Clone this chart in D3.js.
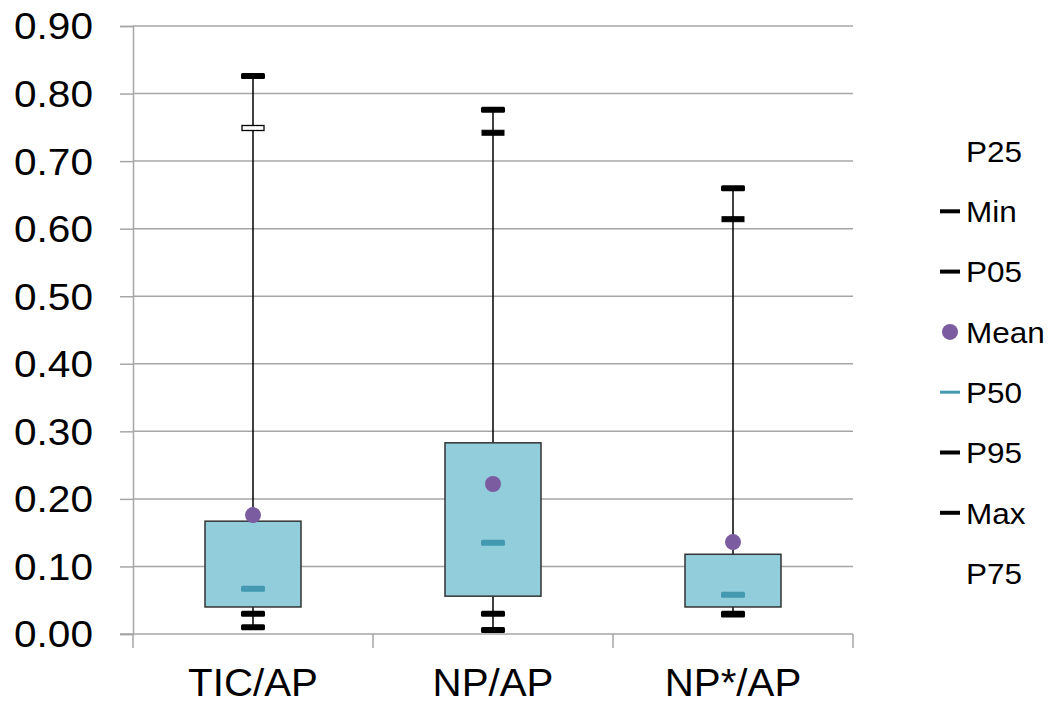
<!DOCTYPE html>
<html>
<head>
<meta charset="utf-8">
<script src="https://cdn.jsdelivr.net/npm/d3@7"></script>
<style>
  body { margin: 0; background: #fff; }
  svg text { font-family: "Liberation Sans", Arial, sans-serif; fill: #000; }
</style>
</head>
<body>
<div id="chart"></div>
<script>
// values
var categories = ["TIC/AP", "NP/AP", "NP*/AP"];
var minVals  = [0.010, 0.006, 0.029];
var p05Vals  = [0.030, 0.030, 0.030];
var p25Vals  = [0.040, 0.056, 0.040];
var p50Vals  = [0.067, 0.135, 0.058];
var meanVals = [0.176, 0.222, 0.136];
var p75Vals  = [0.167, 0.283, 0.118];
var p95Vals  = [0.749, 0.742, 0.614];
var maxVals  = [0.826, 0.776, 0.660];
var yTicks = [0, 0.1, 0.2, 0.3, 0.4, 0.5, 0.6, 0.7, 0.8, 0.9];
var legendItems = ["P25", "Min", "P05", "Mean", "P50", "P95", "Max", "P75"];

var svg_width = 1049, svg_height = 703,
    plot_left = 133, plot_right = 853, plot_top = 26, plot_bottom = 634,
    boxW = 96, dashW = 24, dashH = 6,
    gridCol = "#a6a6a6", boxFill = "#92cddc", medCol = "#4299b0", meanCol = "#7b5ca0";

var svg = d3.select("#chart").append("svg")
  .attr("width", svg_width).attr("height", svg_height);

var x = d3.scaleBand().domain(categories).range([plot_left, plot_right]);
var y = d3.scaleLinear().domain([0, 0.9]).range([plot_bottom, plot_top]);

// gridlines
svg.append("g").selectAll("line").data(yTicks.slice(1)).enter().append("line")
  .attr("x1", plot_left).attr("x2", plot_right)
  .attr("y1", function (d) { return y(d); }).attr("y2", function (d) { return y(d); })
  .attr("stroke", gridCol).attr("stroke-width", 1.5);

// y axis
var yAxis = svg.append("g").attr("transform", "translate(" + plot_left + ",0)")
  .call(d3.axisLeft(y).tickValues(yTicks).tickFormat(d3.format(".2f")).tickSize(13).tickPadding(27));
yAxis.select(".domain").attr("stroke", gridCol).attr("stroke-width", 1.5);
yAxis.selectAll(".tick line").attr("stroke", gridCol).attr("stroke-width", 1.5);
yAxis.selectAll("text").attr("font-size", 36).attr("font-family", "Liberation Sans, Arial, sans-serif")
  .attr("dy", "0.36em").attr("textLength", 79).attr("lengthAdjust", "spacingAndGlyphs");

// x axis
var xAxis = svg.append("g").attr("transform", "translate(0," + plot_bottom + ")")
  .call(d3.axisBottom(x).tickSize(0).tickPadding(35));
xAxis.select(".domain").attr("stroke", gridCol).attr("stroke-width", 1.5)
  .attr("d", "M" + (plot_left - 13) + ",0H" + plot_right);
xAxis.selectAll("text").attr("font-size", 38).attr("font-family", "Liberation Sans, Arial, sans-serif")
  .attr("dy", "0.72em")
  .each(function () {
    var w = this.getComputedTextLength();
    d3.select(this).attr("textLength", w * 1.06).attr("lengthAdjust", "spacingAndGlyphs");
  });
// category dividers
xAxis.append("g").selectAll("line").data([plot_left].concat(categories.map(function (c) { return x(c) + x.bandwidth(); })))
  .enter().append("line")
  .attr("x1", function (d) { return d; }).attr("x2", function (d) { return d; })
  .attr("y1", 0).attr("y2", 14)
  .attr("stroke", gridCol).attr("stroke-width", 1.5);

var rows = categories.map(function (c, i) {
  return { cat: c, min: minVals[i], p05: p05Vals[i], p25: p25Vals[i], p50: p50Vals[i],
           mean: meanVals[i], p75: p75Vals[i], p95: p95Vals[i], max: maxVals[i], open: i === 0 };
});

var g = svg.append("g").selectAll("g.box").data(rows).enter().append("g").attr("class", "box")
  .attr("transform", function (d) { return "translate(" + (x(d.cat) + x.bandwidth() / 2) + ",0)"; });

// whisker
g.append("line").attr("x1", 0).attr("x2", 0)
  .attr("y1", function (d) { return y(d.max); }).attr("y2", function (d) { return y(d.min); })
  .attr("stroke", "#000").attr("stroke-width", 1.5);

// box
g.append("rect").attr("x", -boxW / 2).attr("width", boxW)
  .attr("y", function (d) { return y(d.p75); })
  .attr("height", function (d) { return y(d.p25) - y(d.p75); })
  .attr("fill", boxFill).attr("stroke", "#333").attr("stroke-width", 1.5);

function dash(sel, key, fill, stroke) {
  sel.append("rect").attr("x", -dashW / 2).attr("width", dashW).attr("height", dashH)
    .attr("rx", 1.5)
    .attr("y", function (d) { return y(d[key]) - dashH / 2; })
    .attr("fill", fill).attr("stroke", stroke || "none");
}
dash(g, "min", "#000");
dash(g, "p05", "#000");
dash(g, "max", "#000");
g.append("rect").attr("x", -dashW / 2 + 1).attr("width", dashW - 2).attr("height", dashH - 1)
  .attr("y", function (d) { return y(d.p95) - (dashH - 1) / 2; })
  .attr("fill", function (d) { return d.open ? "#fff" : "#000"; })
  .attr("stroke", "#000").attr("stroke-width", function (d) { return d.open ? 1.3 : 1; });
dash(g, "p50", medCol);

g.append("circle").attr("cx", 0).attr("r", 8)
  .attr("cy", function (d) { return y(d.mean); })
  .attr("fill", meanCol);

// legend
var leg = svg.append("g").selectAll("g").data(legendItems).enter().append("g")
  .attr("transform", function (d, i) { return "translate(940," + (151 + i * 60.3) + ")"; });
leg.append("text").attr("x", 26).attr("dy", "0.36em").attr("font-size", 30)
  .text(function (d) { return d; })
  .each(function () {
    var w = this.getComputedTextLength();
    d3.select(this).attr("textLength", w * 1.05).attr("lengthAdjust", "spacingAndGlyphs");
  });
leg.each(function (d) {
  var s = d3.select(this);
  if (d === "Mean") {
    s.append("circle").attr("cx", 10).attr("cy", 0).attr("r", 8).attr("fill", meanCol);
  } else if (d === "P50") {
    s.append("rect").attr("x", 0).attr("y", -1.5).attr("width", 20).attr("height", 3).attr("fill", medCol);
  } else if (d === "Min" || d === "P05" || d === "P95" || d === "Max") {
    s.append("rect").attr("x", 0).attr("y", -2).attr("width", 20).attr("height", 4).attr("fill", "#000");
  }
});
</script>
</body>
</html>
